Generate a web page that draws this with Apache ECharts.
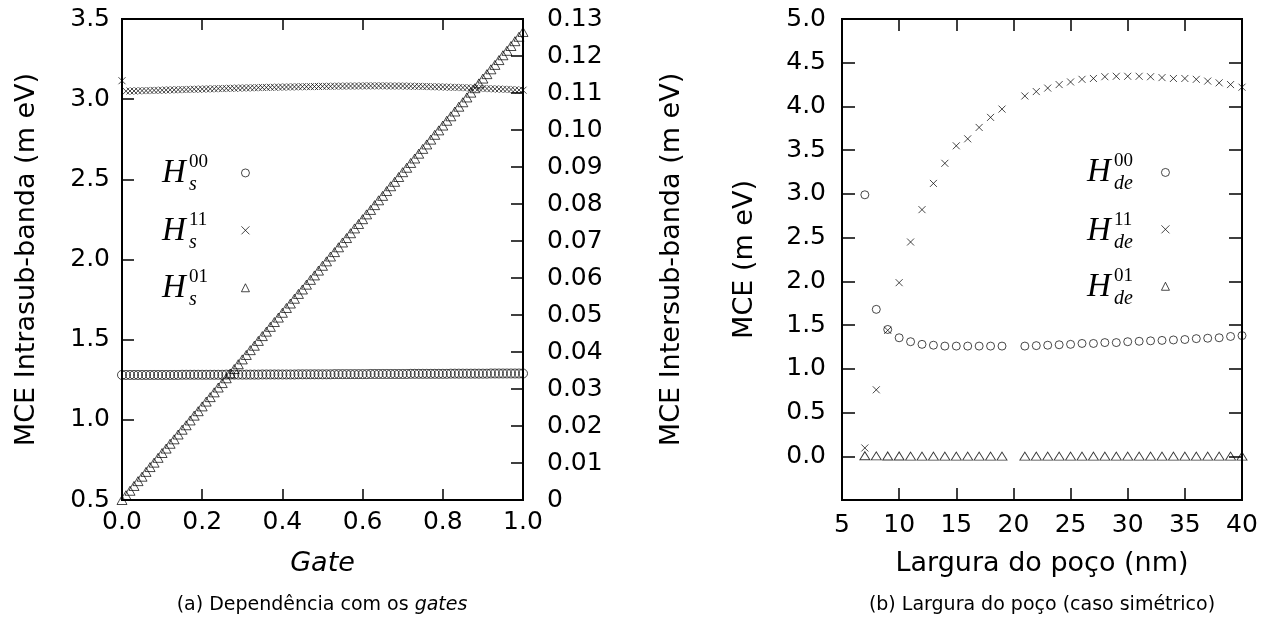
<!DOCTYPE html>
<html>
<head>
<meta charset="utf-8">
<script src="https://cdn.jsdelivr.net/npm/echarts@6/dist/echarts.min.js"></script>
<style>html,body{margin:0;padding:0;background:#fff}#c{width:1279px;height:628px}</style>
</head>
<body>
<div id="c"></div>
<script>
// ---- Panel (a): dependence on gate ----
const gateX = [
0.00,0.01,0.02,0.03,0.04,0.05,0.06,0.07,0.08,0.09,
0.10,0.11,0.12,0.13,0.14,0.15,0.16,0.17,0.18,0.19,
0.20,0.21,0.22,0.23,0.24,0.25,0.26,0.27,0.28,0.29,
0.30,0.31,0.32,0.33,0.34,0.35,0.36,0.37,0.38,0.39,
0.40,0.41,0.42,0.43,0.44,0.45,0.46,0.47,0.48,0.49,
0.50,0.51,0.52,0.53,0.54,0.55,0.56,0.57,0.58,0.59,
0.60,0.61,0.62,0.63,0.64,0.65,0.66,0.67,0.68,0.69,
0.70,0.71,0.72,0.73,0.74,0.75,0.76,0.77,0.78,0.79,
0.80,0.81,0.82,0.83,0.84,0.85,0.86,0.87,0.88,0.89,
0.90,0.91,0.92,0.93,0.94,0.95,0.96,0.97,0.98,0.99,
1.00];
const hs00 = [
1.280,1.280,1.280,1.280,1.280,1.280,1.280,1.280,1.280,1.280,
1.280,1.280,1.280,1.280,1.280,1.281,1.281,1.281,1.281,1.281,
1.281,1.281,1.281,1.281,1.281,1.281,1.282,1.282,1.282,1.282,
1.282,1.282,1.282,1.282,1.282,1.283,1.283,1.283,1.283,1.283,
1.283,1.283,1.283,1.283,1.284,1.284,1.284,1.284,1.284,1.284,
1.284,1.284,1.284,1.285,1.285,1.285,1.285,1.285,1.285,1.285,
1.285,1.285,1.286,1.286,1.286,1.286,1.286,1.286,1.286,1.286,
1.286,1.286,1.287,1.287,1.287,1.287,1.287,1.287,1.287,1.287,
1.287,1.287,1.288,1.288,1.288,1.288,1.288,1.288,1.288,1.288,
1.288,1.288,1.289,1.289,1.289,1.289,1.289,1.289,1.289,1.289,
1.289];
const hs11 = [
3.115,3.050,3.051,3.051,3.052,3.053,3.053,3.054,3.055,3.055,
3.056,3.057,3.058,3.058,3.059,3.060,3.060,3.061,3.062,3.062,
3.063,3.064,3.064,3.065,3.066,3.066,3.067,3.068,3.068,3.069,
3.070,3.070,3.071,3.071,3.072,3.073,3.073,3.074,3.074,3.075,
3.075,3.076,3.076,3.077,3.077,3.078,3.078,3.078,3.079,3.079,
3.080,3.080,3.080,3.081,3.081,3.081,3.082,3.082,3.082,3.082,
3.083,3.083,3.083,3.083,3.083,3.083,3.083,3.082,3.082,3.082,
3.082,3.081,3.081,3.080,3.080,3.079,3.079,3.078,3.077,3.077,
3.076,3.075,3.074,3.074,3.073,3.072,3.071,3.070,3.069,3.068,
3.067,3.066,3.065,3.064,3.063,3.062,3.061,3.060,3.058,3.057,
3.056];
const hs01 = [
0.0000,0.0013,0.0025,0.0038,0.0051,0.0063,0.0076,0.0089,0.0101,0.0114,
0.0127,0.0139,0.0152,0.0164,0.0177,0.0190,0.0202,0.0215,0.0228,0.0240,
0.0253,0.0266,0.0278,0.0291,0.0304,0.0316,0.0329,0.0342,0.0354,0.0367,
0.0380,0.0392,0.0405,0.0417,0.0430,0.0443,0.0455,0.0468,0.0481,0.0493,
0.0506,0.0519,0.0531,0.0544,0.0557,0.0569,0.0582,0.0595,0.0607,0.0620,
0.0633,0.0645,0.0658,0.0670,0.0683,0.0696,0.0708,0.0721,0.0734,0.0746,
0.0759,0.0772,0.0784,0.0797,0.0810,0.0822,0.0835,0.0848,0.0860,0.0873,
0.0886,0.0898,0.0911,0.0923,0.0936,0.0949,0.0961,0.0974,0.0987,0.0999,
0.1012,0.1025,0.1037,0.1050,0.1063,0.1075,0.1088,0.1101,0.1113,0.1126,
0.1139,0.1151,0.1164,0.1176,0.1189,0.1202,0.1214,0.1227,0.1240,0.1252,
0.1265];

// ---- Panel (b): well width (symmetric case) ----
const widthX = [7,8,9,10,11,12,13,14,15,16,17,18,19,21,22,23,24,25,26,27,28,29,30,31,32,33,34,35,36,37,38,39,40];
const hde00 = [2.99,1.68,1.45,1.355,1.31,1.28,1.27,1.26,1.26,1.26,1.26,1.26,1.26,
  1.26,1.265,1.27,1.275,1.28,1.29,1.29,1.30,1.30,1.31,1.315,1.32,1.325,1.33,1.335,1.345,1.35,1.355,1.37,1.38];
const hde11 = [0.095,0.76,1.44,1.985,2.45,2.82,3.12,3.35,3.55,3.63,3.76,3.875,3.97,
  4.12,4.17,4.21,4.25,4.28,4.31,4.32,4.34,4.345,4.345,4.345,4.34,4.33,4.32,4.32,4.31,4.29,4.27,4.25,4.22];
const hde01 = [0.006,0.004,0.003,0.003,0.002,0.002,0.002,0.002,0.001,0.001,0.001,0.001,0.001,
  0.001,0.001,0.001,0.001,0.001,0.001,0.001,0.001,0.001,0.001,0.001,0.001,0.001,0.001,0.001,0.001,0.001,0.001,0.001,0.001];

const FONT = 'DejaVu Sans';
const crossPath = 'path://M0 0L10 10M10 0L0 10';
const markStyle = {color:'transparent', borderColor:'#000', borderWidth:0.9};

function tick(len){ return {show:true, inside:true, length:len, lineStyle:{color:'#000', width:1.5}}; }
const noLine = {show:false, onZero:false};
const labelBase = {color:'#000', fontFamily:FONT, fontSize:25};
const nameBase = {color:'#000', fontFamily:FONT, fontSize:27};

const option = {
  animation:false,
  backgroundColor:'#fff',
  grid:[
    {left:122, top:19, width:401, height:481, show:true, borderColor:'#000', borderWidth:2, backgroundColor:'#fff'},
    {left:842, top:19, width:400, height:481, show:true, borderColor:'#000', borderWidth:2, backgroundColor:'#fff'}
  ],
  xAxis:[
    {gridIndex:0, type:'value', min:0, max:1, interval:0.2, position:'bottom',
     axisLine:noLine, axisTick:tick(11), splitLine:{show:false},
     axisLabel:Object.assign({margin:10, formatter:v=>v.toFixed(1)}, labelBase),
     name:'Gate', nameLocation:'middle', nameGap:50,
     nameTextStyle:Object.assign({fontStyle:'italic'}, nameBase)},
    {gridIndex:0, type:'value', min:0, max:1, interval:0.2, position:'top',
     axisLine:noLine, axisTick:tick(11), splitLine:{show:false}, axisLabel:{show:false}},
    {gridIndex:1, type:'value', min:5, max:40, interval:5, position:'bottom',
     axisLine:noLine, axisTick:tick(12), splitLine:{show:false},
     axisLabel:Object.assign({margin:13, formatter:v=>String(v)}, labelBase),
     name:'Largura do poço (nm)', nameLocation:'middle', nameGap:50,
     nameTextStyle:nameBase},
    {gridIndex:1, type:'value', min:5, max:40, interval:5, position:'top',
     axisLine:noLine, axisTick:tick(12), splitLine:{show:false}, axisLabel:{show:false}}
  ],
  yAxis:[
    {gridIndex:0, type:'value', min:0.5, max:3.5, interval:0.5, position:'left',
     axisLine:noLine, axisTick:tick(12), splitLine:{show:false},
     axisLabel:Object.assign({margin:12, formatter:v=>v.toFixed(1)}, labelBase),
     name:'MCE Intrasub-banda (m eV)', nameLocation:'middle', nameGap:82, nameRotate:90,
     nameTextStyle:nameBase},
    {gridIndex:0, type:'value', min:0, max:0.13, interval:0.01, position:'right',
     axisLine:noLine, axisTick:tick(12), splitLine:{show:false},
     axisLabel:Object.assign({margin:24, formatter:v=>Math.abs(v)<1e-9?'0':v.toFixed(2)}, labelBase),
     name:'MCE Intersub-banda (m eV)', nameLocation:'middle', nameGap:135, nameRotate:90,
     nameTextStyle:nameBase},
    {gridIndex:1, type:'value', min:-0.5, max:5.0, interval:0.5, position:'left',
     axisLine:noLine, axisTick:tick(13), splitLine:{show:false},
     axisLabel:Object.assign({margin:16, formatter:v=>v<-0.01?'':v.toFixed(1)}, labelBase),
     name:'MCE (m eV)', nameLocation:'middle', nameGap:84, nameRotate:90,
     nameTextStyle:nameBase},
    {gridIndex:1, type:'value', min:-0.5, max:5.0, interval:0.5, position:'right',
     axisLine:noLine, axisTick:tick(13), splitLine:{show:false}, axisLabel:{show:false}}
  ],
  legend:[
    {orient:'vertical', left:241, top:168.5, padding:0, itemWidth:8, itemHeight:8, itemGap:48.5,
     data:['Hs00','Hs11','Hs01'], formatter:()=>'', textStyle:{fontSize:8, lineHeight:8},
     itemStyle:{color:'transparent', borderColor:'#000', borderWidth:0.9}, selectedMode:false},
    {orient:'vertical', left:1161, top:168, padding:0, itemWidth:8, itemHeight:8, itemGap:48,
     data:['Hde00','Hde11','Hde01'], formatter:()=>'', textStyle:{fontSize:8, lineHeight:8},
     itemStyle:{color:'transparent', borderColor:'#000', borderWidth:0.9}, selectedMode:false}
  ],
  series:[
    {name:'Hs00', type:'scatter', xAxisIndex:0, yAxisIndex:0, symbol:'circle', symbolSize:9,
     itemStyle:markStyle, data:gateX.map((x,i)=>[x,hs00[i]])},
    {name:'Hs11', type:'scatter', xAxisIndex:0, yAxisIndex:0, symbol:crossPath, symbolSize:7,
     itemStyle:markStyle, data:gateX.map((x,i)=>[x,hs11[i]])},
    {name:'Hs01', type:'scatter', xAxisIndex:0, yAxisIndex:1, symbol:'triangle', symbolSize:[10,9],
     itemStyle:markStyle, data:gateX.map((x,i)=>[x,hs01[i]])},
    {name:'Hde00', type:'scatter', xAxisIndex:2, yAxisIndex:2, symbol:'circle', symbolSize:8,
     itemStyle:markStyle, data:widthX.map((x,i)=>[x,hde00[i]])},
    {name:'Hde11', type:'scatter', xAxisIndex:2, yAxisIndex:2, symbol:crossPath, symbolSize:7,
     itemStyle:markStyle, data:widthX.map((x,i)=>[x,hde11[i]])},
    {name:'Hde01', type:'scatter', xAxisIndex:2, yAxisIndex:2, symbol:'triangle', symbolSize:[10,8],
     itemStyle:markStyle, data:widthX.map((x,i)=>[x,hde01[i]])}
  ],
  graphic:[]
};

// math legend labels  H_sub^sup
function mathLabel(x, y, sup, sub){
  return [
    {type:'text', x:x, y:y, silent:true, style:{text:'H', fontFamily:'Liberation Serif', fontStyle:'italic', fontSize:33, fill:'#000', align:'left', verticalAlign:'middle'}},
    {type:'text', x:x+27, y:y-11, silent:true, style:{text:sup, fontFamily:'Liberation Serif', fontSize:19, fill:'#000', align:'left', verticalAlign:'middle'}},
    {type:'text', x:x+27, y:y+12, silent:true, style:{text:sub, fontFamily:'Liberation Serif', fontStyle:'italic', fontSize:20, fill:'#000', align:'left', verticalAlign:'middle'}}
  ];
}
const legA = [['00','s',173],['11','s',231],['01','s',288]];
const legB = [['00','de',172],['11','de',231],['01','de',287]];
legA.forEach(r=>{ option.graphic.push(...mathLabel(162, r[2], r[0], r[1])); });
legB.forEach(r=>{ option.graphic.push(...mathLabel(1087, r[2], r[0], r[1])); });

// captions
option.graphic.push({type:'text', x:322, y:605, silent:true, style:{
  text:'{n|(a) Dependência com os }{i|gates}', align:'center', verticalAlign:'middle',
  rich:{n:{fontFamily:FONT, fontSize:19, fill:'#000'}, i:{fontFamily:FONT, fontSize:19, fontStyle:'italic', fill:'#000'}}}});
option.graphic.push({type:'text', x:1042, y:605, silent:true, style:{
  text:'(b) Largura do poço (caso simétrico)', align:'center', verticalAlign:'middle',
  fontFamily:FONT, fontSize:19, fill:'#000'}});

const chart = echarts.init(document.getElementById('c'), null, {renderer:'canvas'});
chart.setOption(option);
</script>
</body>
</html>
